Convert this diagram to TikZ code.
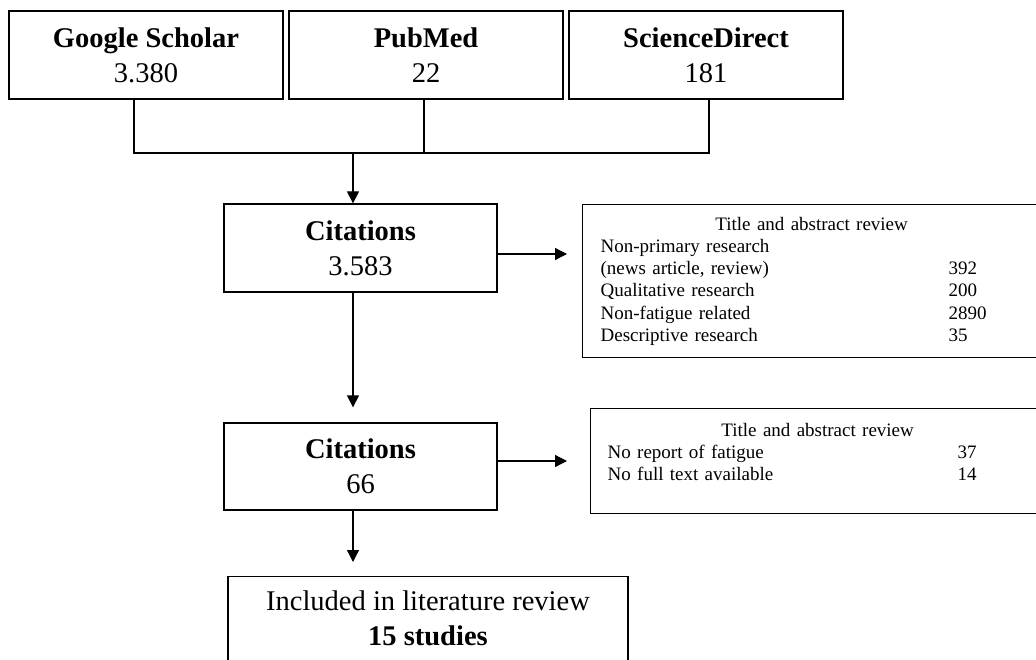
\documentclass[tikz,border=0pt]{standalone}
\usepackage{fontspec}
\setmainfont{Liberation Serif}
\usetikzlibrary{arrows.meta}
\begin{document}
\begin{tikzpicture}[x=1pt,y=-1pt,
	srcbox/.style={draw,line width=1.3pt,inner sep=0pt,minimum width=274pt,minimum height=88pt,align=center,font=\fontsize{28.5}{35}\selectfont},
	revbox/.style={draw,line width=1.3pt,inner ysep=0pt,align=left,font=\fontsize{19}{22.2}\selectfont},
	conn/.style={line width=1.3pt},
	arr/.style={conn,-{Triangle[length=12pt,width=12pt]}}]
	\useasboundingbox (0,0) rectangle (1036,660);

	% sources
	\node (gs) at (146,55) [srcbox] {\textbf{Google Scholar}\\3.380};
	\node (pm) at (426,55) [srcbox] {\textbf{PubMed}\\22};
	\node (sd) at (706,55) [srcbox] {\textbf{ScienceDirect}\\181};
	\coordinate (join) at (353,153);

	% screening
	\node (cit1) at (360.5,248) [srcbox,minimum width=273pt] {\textbf{Citations}\\3.583};
	\node (cit2) at (360.5,466.5) [srcbox,minimum width=273pt,minimum height=87pt] {\textbf{Citations}\\66};
	\node (incl) at (428,576) [srcbox,anchor=north,minimum width=400pt,minimum height=0pt,inner ysep=14.5pt] {Included in literature review\\\textbf{15 studies}\rule[-40pt]{0pt}{40pt}};

	% exclusions
	\node (rev1) at (582,204) [revbox,anchor=north west,inner xsep=18pt,text width=422pt,minimum height=153pt] {\makebox[422pt][c]{Title and abstract review}\\
		Non-primary research\\
		\makebox[348pt][l]{(news article, review)}392\\
		\makebox[348pt][l]{Qualitative research}200\\
		\makebox[348pt][l]{Non-fatigue related}2890\\
		\makebox[348pt][l]{Descriptive research}35};
	\node (rev2) at (590,408) [revbox,anchor=north west,inner xsep=17pt,text width=420pt,minimum height=105pt] {\makebox[420pt][c]{Title and abstract review}\\
		\makebox[350pt][l]{No report of fatigue}37\\
		\makebox[350pt][l]{No full text available}14\rule[-19pt]{0pt}{19pt}};

	\draw [conn] ([xshift=-12pt]gs.south) |- ([xshift=3pt]sd.south |- join) -- ([xshift=3pt]sd.south);
	\draw [conn] ([xshift=-2pt]pm.south) -- ([xshift=-2pt]pm.south |- join);
	\draw [arr] (join) -- (join |- cit1.north);
	\draw [arr,shorten >=15pt] ([xshift=-7.5pt]cit1.south) -- ([xshift=-7.5pt]cit2.north);
	\draw [arr,shorten >=14pt] ([xshift=-7.5pt]cit2.south) -- ([xshift=-7.5pt]cit2.south |- incl.north);
	\draw [arr,shorten >=15pt] ([yshift=-6pt]cit1.east) -- ([yshift=-6pt]cit1.east -| rev1.west);
	\draw [arr,shorten >=23pt] ([yshift=5.5pt]cit2.east) -- ([yshift=5.5pt]cit2.east -| rev2.west);
\end{tikzpicture}
\end{document}
